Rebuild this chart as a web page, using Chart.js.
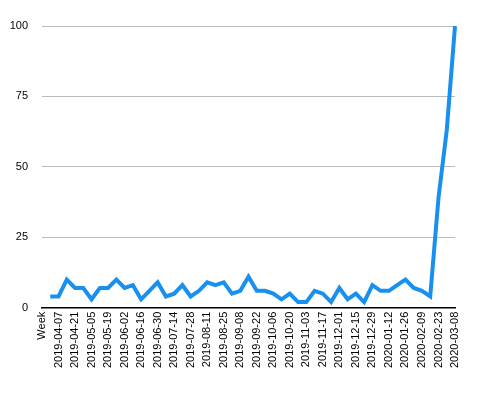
<!DOCTYPE html>
<html>
<head>
<meta charset="utf-8">
<script src="https://cdn.jsdelivr.net/npm/chart.js@4"></script>
<style>
  html, body { margin: 0; padding: 0; background: #fff; }
  #wrap { width: 500px; height: 412px; }
</style>
</head>
<body>
<div id="wrap"><canvas id="chartTrend"></canvas></div>
<script>
// categories (first one is the stray header row)
const weeks = [
  'Week',
  '2019-03-31', '2019-04-07', '2019-04-14', '2019-04-21', '2019-04-28',
  '2019-05-05', '2019-05-12', '2019-05-19', '2019-05-26',
  '2019-06-02', '2019-06-09', '2019-06-16', '2019-06-23', '2019-06-30',
  '2019-07-07', '2019-07-14', '2019-07-21', '2019-07-28',
  '2019-08-04', '2019-08-11', '2019-08-18', '2019-08-25',
  '2019-09-01', '2019-09-08', '2019-09-15', '2019-09-22', '2019-09-29',
  '2019-10-06', '2019-10-13', '2019-10-20', '2019-10-27',
  '2019-11-03', '2019-11-10', '2019-11-17', '2019-11-24',
  '2019-12-01', '2019-12-08', '2019-12-15', '2019-12-22', '2019-12-29',
  '2020-01-05', '2020-01-12', '2020-01-19', '2020-01-26',
  '2020-02-02', '2020-02-09', '2020-02-16', '2020-02-23',
  '2020-03-01', '2020-03-08'
];

// interest values, one per category
const interest = [
  null,
  4, 4, 10, 7, 7,
  3, 7, 7, 10,
  7, 8, 3, 6, 9,
  4, 5, 8, 4,
  6, 9, 8, 9,
  5, 6, 11, 6, 6,
  5, 3, 5, 2,
  2, 6, 5, 2,
  7, 3, 5, 2, 8,
  6, 6, 8, 10,
  7, 6, 4, 39,
  63, 100
];

const yTicks = [0, 25, 50, 75, 100];

let ctx = document.getElementById('chartTrend').getContext('2d');

new Chart(ctx, {
  type: 'line',
  data: {
    labels: weeks,
    datasets: [
      {
        data: interest,
        borderColor: '#1890f0',
        borderWidth: 4,
        pointRadius: 0,
        tension: 0,
        fill: false
      }
    ]
  },
  options: {
    responsive: true,
    maintainAspectRatio: false,
    animation: false,
    layout: { padding: { top: 26, right: 45, bottom: 40, left: 10 } },
    plugins: {
      legend: { display: false },
      tooltip: { enabled: false }
    },
    scales: {
      x: {
        afterFit: scale => { scale.paddingLeft = 0; scale.paddingRight = 0; },
        grid: { display: false, drawTicks: false },
        border: { display: true, color: '#000', width: 1.5 },
        ticks: {
          autoSkip: false,
          minRotation: 90,
          maxRotation: 90,
          padding: 4,
          color: '#000',
          font: { family: 'Liberation Sans', size: 11 },
          callback: function (val, i) { return i % 2 === 0 ? weeks[i] : null; }
        }
      },
      y: {
        min: yTicks[0],
        max: yTicks[yTicks.length - 1],
        afterBuildTicks: axis => { axis.ticks = yTicks.map(v => ({ value: v })); },
        afterFit: scale => { scale.width = 32; },
        grid: { color: '#bbb', drawTicks: false },
        border: { display: false },
        ticks: {
          padding: 14,
          color: '#000',
          font: { family: 'Liberation Sans', size: 11 }
        }
      }
    }
  }
});
</script>
</body>
</html>
